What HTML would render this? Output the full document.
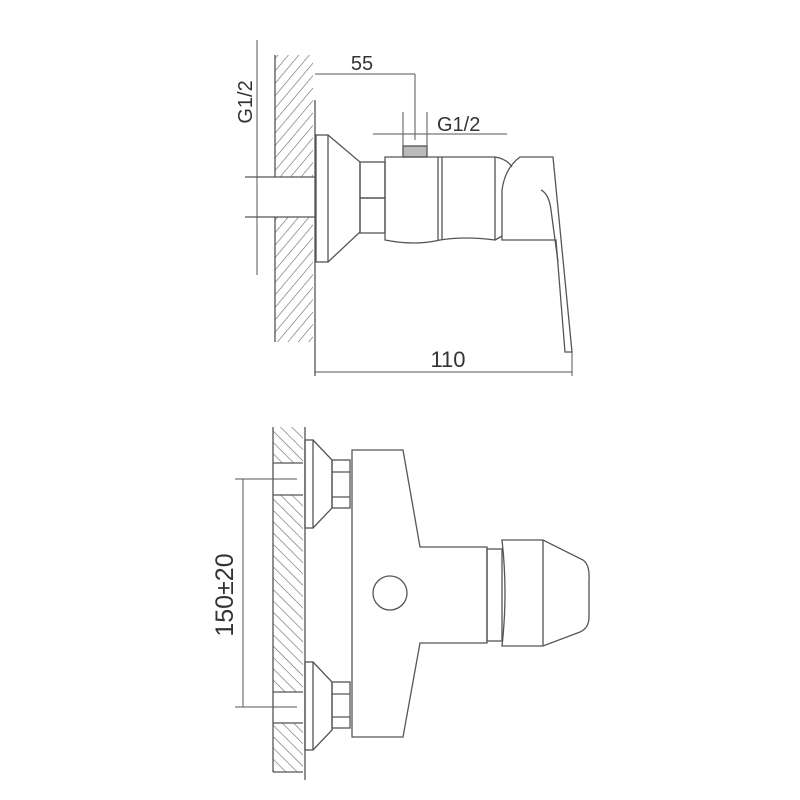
<!DOCTYPE html>
<html><head><style>body{margin:0;background:#fff}svg{display:block}</style></head><body>
<svg width="800" height="800" viewBox="0 0 800 800" xmlns="http://www.w3.org/2000/svg">
<defs>
<pattern id="h1" width="8" height="8" patternUnits="userSpaceOnUse" patternTransform="rotate(40)"><line x1="0" y1="0" x2="0" y2="8" stroke="#666" stroke-width="1.2"/></pattern>
<pattern id="h2" width="8" height="8" patternUnits="userSpaceOnUse" patternTransform="rotate(-45)"><line x1="0" y1="0" x2="0" y2="8" stroke="#666" stroke-width="1.2"/></pattern>
</defs>
<g fill="none" stroke="#555" stroke-width="1.3">
<!-- TOP VIEW -->
<rect x="275" y="55" width="38" height="122" fill="url(#h1)" stroke="none"/>
<rect x="275" y="217" width="38" height="125" fill="url(#h1)" stroke="none"/>
<line x1="275" y1="55" x2="275" y2="177"/><line x1="275" y1="217" x2="275" y2="342"/>
<line x1="315" y1="100" x2="315" y2="376"/>
<line x1="245" y1="177" x2="315" y2="177"/><line x1="245" y1="217" x2="315" y2="217"/>
<line x1="257" y1="40" x2="257" y2="275" stroke-width="1"/>
<!-- 55 -->
<line x1="315" y1="74" x2="415" y2="74" stroke-width="1"/>
<line x1="415" y1="74" x2="415" y2="140" stroke-width="1"/>
<!-- G1/2 small -->
<line x1="373" y1="134" x2="507" y2="134" stroke-width="1"/>
<line x1="403" y1="112" x2="403" y2="150" stroke-width="1"/>
<line x1="427" y1="112" x2="427" y2="150" stroke-width="1"/>
<rect x="403" y="146" width="24" height="11" fill="#bbb"/>
<!-- flange -->
<rect x="316" y="135" width="12" height="127"/>
<polyline points="328,135 360,162 360,232 328,262"/>
<rect x="360" y="162" width="25" height="36"/><rect x="360" y="198" width="25" height="35"/>
<!-- body -->
<path d="M385,157 H495 V240 Q465,236 440,240 Q415,246 385,240 Z"/>
<line x1="438" y1="157" x2="438" y2="240"/><line x1="442" y1="157" x2="442" y2="240"/>
<path d="M495,157 Q507,159 512,167"/>
<path d="M520,157 H553 L572,352 H565 L556,240 H502 V190 Q505,168 520,157 Z"/>
<line x1="495" y1="240" x2="502" y2="236"/>
<path d="M541,190 Q549,194 551,210 L558,262"/>
<line x1="315" y1="372" x2="572" y2="372" stroke-width="1"/>
<line x1="572" y1="352" x2="572" y2="376" stroke-width="1"/>
<!-- BOTTOM VIEW -->
<rect x="273" y="427" width="30" height="36" fill="url(#h2)" stroke="none"/>
<rect x="273" y="495" width="30" height="197" fill="url(#h2)" stroke="none"/>
<rect x="273" y="723" width="30" height="49" fill="url(#h2)" stroke="none"/>
<line x1="273" y1="427" x2="273" y2="772"/><line x1="305" y1="427" x2="305" y2="780"/>
<line x1="273" y1="463" x2="303" y2="463"/><line x1="273" y1="495" x2="303" y2="495"/>
<line x1="273" y1="692" x2="303" y2="692"/><line x1="273" y1="723" x2="303" y2="723"/>
<line x1="273" y1="772" x2="303" y2="772"/>
<line x1="235" y1="479" x2="297" y2="479" stroke-width="1"/>
<line x1="235" y1="707" x2="297" y2="707" stroke-width="1"/>
<line x1="243" y1="479" x2="243" y2="707" stroke-width="1"/>
<!-- flanges -->
<rect x="305" y="440" width="8" height="88"/>
<polyline points="313,440 332,460 332,508 313,528"/>
<rect x="332" y="460" width="18" height="48"/><line x1="332" y1="472" x2="350" y2="472"/><line x1="332" y1="497" x2="350" y2="497"/>
<rect x="305" y="662" width="8" height="88"/>
<polyline points="313,662 332,682 332,730 313,750"/>
<rect x="332" y="682" width="18" height="46"/><line x1="332" y1="694" x2="350" y2="694"/><line x1="332" y1="717" x2="350" y2="717"/>
<!-- body -->
<polygon points="352,450 403,450 420,547 487,547 487,643 420,643 403,737 352,737"/>
<circle cx="390" cy="593" r="17"/>
<rect x="487" y="549" width="15" height="92"/>
<path d="M502,540 H543 L583,560 Q590,565 589,580 V617 Q589,628 580,632 L543,646 H502 Q508,593 502,540 Z"/>
<line x1="543" y1="540" x2="543" y2="646"/>
</g>
<g font-family="Liberation Sans, sans-serif" font-size="20" fill="#333">
<text x="362" y="70" text-anchor="middle">55</text>
<text x="437" y="131">G1/2</text>
<text x="448" y="367" text-anchor="middle" font-size="22">110</text>
<text transform="translate(252,102) rotate(-90)" text-anchor="middle">G1/2</text>
<text transform="translate(233,595) rotate(-90)" text-anchor="middle" font-size="25">150±20</text>
</g>
</svg>
</body></html>
